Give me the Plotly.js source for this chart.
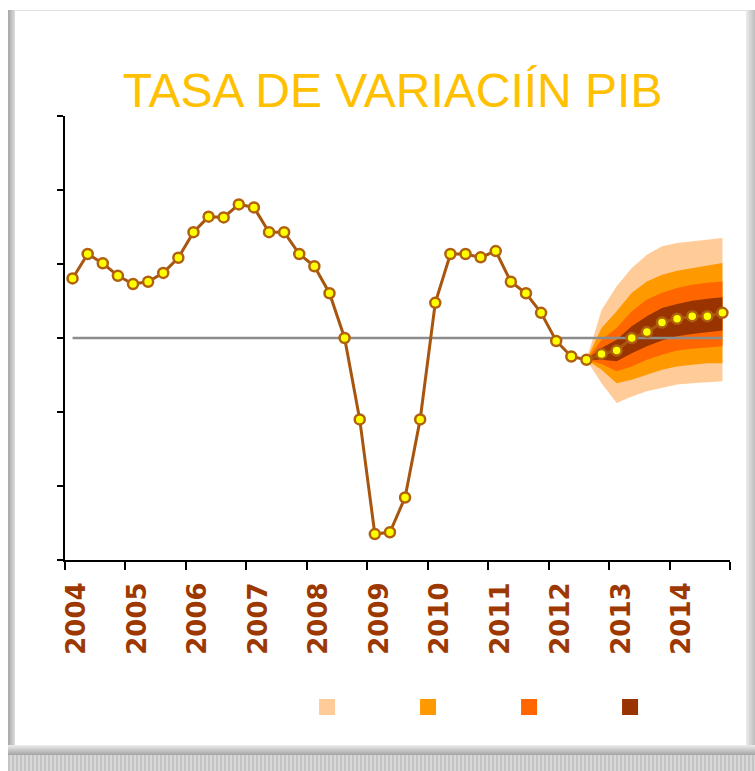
<!DOCTYPE html>
<html>
<head>
<meta charset="utf-8">
<script src="https://cdn.plot.ly/plotly-3.0.1.min.js"></script>
<style>
html, body { margin: 0; padding: 0; background: #ffffff; }
#wrap { position: relative; width: 755px; height: 771px; overflow: hidden; background: #ffffff; }
.fr { position: absolute; }
#chart { position: absolute; left: 0; top: 0; width: 755px; height: 771px; }
</style>
</head>
<body>
<div id="wrap">
  <div class="fr" style="left:8px;top:10px;width:7px;height:738px;background:linear-gradient(to right,#a6a6a6,#dcdcdc);"></div>
  <div class="fr" style="left:15px;top:10px;width:733px;height:1px;background:#e2e2e2;"></div>
  <div class="fr" style="left:746px;top:10px;width:9px;height:738px;background:linear-gradient(to right,#ececec,#bcbcbc);"></div>
  <div class="fr" style="left:8px;top:745px;width:747px;height:10px;background:linear-gradient(to bottom,#ededed,#a4a4a4);"></div>
  <div class="fr" style="left:8px;top:755px;width:747px;height:16px;background:repeating-linear-gradient(to right,#c4c4c4 0px,#c4c4c4 2px,#d8d8d8 2px,#d8d8d8 4px);"></div>
  <div id="chart"></div>
</div>
<script>
// ---- data ----
const titleText = 'TASA DE VARIACIÍN PIB';
const years = ['2004','2005','2006','2007','2008','2009','2010','2011','2012','2013','2014'];
const firstYear = 2004;
const quartersPerYear = 4;

// quarterly GDP growth, 2004Q1 .. 2014Q4 (2012Q4 onwards = forecast)
const gdp = [
  1.61, 2.27, 2.02, 1.68,
  1.46, 1.52, 1.76, 2.17,
  2.86, 3.28, 3.26, 3.61,
  3.53, 2.86, 2.86, 2.27,
  1.94, 1.21, 0.00, -2.20,
  -5.30, -5.25, -4.31, -2.20,
  0.95, 2.27, 2.27, 2.18,
  2.35, 1.52, 1.21, 0.68,
  -0.08, -0.50, -0.59, -0.43,
  -0.34, 0.00, 0.16, 0.42,
  0.52, 0.59, 0.59, 0.68
];
const fanStartIndex = 34; // 2012Q3, last observed quarter

// fan bands (from 2012Q3 to 2014Q4)
const peachUpper  = [-0.59, 0.76, 1.40, 1.89, 2.25, 2.48, 2.57, 2.61, 2.66, 2.70];
const peachLower  = [-0.59, -1.22, -1.76, -1.58, -1.44, -1.35, -1.26, -1.22, -1.19, -1.17];
const orangeUpper = [-0.59, 0.27, 0.72, 1.22, 1.53, 1.71, 1.82, 1.89, 1.98, 2.03];
const orangeLower = [-0.59, -0.86, -1.22, -1.13, -0.99, -0.86, -0.77, -0.72, -0.68, -0.68];
const redUpper    = [-0.59, -0.05, 0.27, 0.72, 1.04, 1.22, 1.35, 1.44, 1.49, 1.53];
const redLower    = [-0.59, -0.70, -0.90, -0.77, -0.59, -0.45, -0.34, -0.29, -0.25, -0.22];
const brownUpper  = [-0.59, -0.27, -0.05, 0.32, 0.59, 0.81, 0.92, 1.01, 1.06, 1.10];
const brownLower  = [-0.59, -0.59, -0.63, -0.41, -0.22, -0.07, 0.05, 0.11, 0.16, 0.20];

const baselineValue = 0;
const yTicks = [-6, -4, -2, 0, 2, 4, 6];

// ---- styles ----
const bandColors = ['#FFCC99', '#FF9900', '#FF6600', '#993300'];
const lineColor = '#a8560f';
const labelColor = '#9c3800';

// ---- build ----
const quarterX = gdp.map((v, i) => firstYear + (i + 0.5) / quartersPerYear);
const fanX = quarterX.slice(fanStartIndex);
const yearTickVals = years.map(y => Number(y)).concat([firstYear + years.length]);
const yearTickText = years.concat(['']);

function band(upper, lower, color) {
  return {
    x: fanX.concat(fanX.slice().reverse()),
    y: upper.concat(lower.slice().reverse()),
    type: 'scatter', mode: 'lines', fill: 'toself',
    fillcolor: color, line: {width: 0, color: color},
    showlegend: false, hoverinfo: 'skip'
  };
}
function legendEntry(color) {
  return {
    x: [null], y: [null], type: 'scatter', mode: 'markers', name: ' ',
    marker: {symbol: 'square', size: 16, color: color, line: {width: 0}},
    showlegend: true, hoverinfo: 'skip'
  };
}

const traces = [
  band(peachUpper, peachLower, bandColors[0]),
  band(orangeUpper, orangeLower, bandColors[1]),
  band(redUpper, redLower, bandColors[2]),
  band(brownUpper, brownLower, bandColors[3]),
  {
    x: [quarterX[0], quarterX[quarterX.length - 1]],
    y: [baselineValue, baselineValue],
    type: 'scatter', mode: 'lines',
    line: {color: '#8c8c8c', width: 2.5},
    showlegend: false, hoverinfo: 'skip'
  },
  {
    x: quarterX, y: gdp, type: 'scatter', mode: 'lines+markers',
    line: {color: lineColor, width: 3},
    marker: {size: 10, color: '#ffff00', line: {color: '#b0600f', width: 2.5}},
    showlegend: false
  },
  legendEntry(bandColors[0]),
  legendEntry(bandColors[1]),
  legendEntry(bandColors[2]),
  legendEntry(bandColors[3])
];

const layout = {
  width: 755, height: 771,
  margin: {l: 65, r: 25, t: 116, b: 211},
  paper_bgcolor: 'rgba(0,0,0,0)',
  plot_bgcolor: 'rgba(0,0,0,0)',
  title: {
    text: titleText,
    font: {family: 'Liberation Sans, Arial, sans-serif', size: 48, color: '#FFC000'},
    x: 0.52, xanchor: 'center', xref: 'container',
    y: 0.8833, yanchor: 'middle', yref: 'container'
  },
  xaxis: {
    range: [firstYear, firstYear + years.length],
    tickmode: 'array', tickvals: yearTickVals, ticktext: yearTickText,
    ticks: 'outside', ticklen: 8, tickwidth: 2, tickcolor: '#000000',
    showline: true, linecolor: '#000000', linewidth: 2,
    showgrid: false, zeroline: false,
    tickangle: -90,
    ticklabelshift: 12, ticklabelstandoff: 2,
    tickfont: {family: 'DejaVu Sans, Verdana, sans-serif', size: 26, color: labelColor, weight: 'bold'},
    fixedrange: true
  },
  yaxis: {
    range: [-6, 6],
    tickmode: 'array', tickvals: yTicks, showticklabels: false,
    ticks: 'outside', ticklen: 6, tickwidth: 2, tickcolor: '#000000',
    showline: true, linecolor: '#000000', linewidth: 2,
    showgrid: false, zeroline: false,
    fixedrange: true
  },
  showlegend: true,
  legend: {
    orientation: 'h', x: 0.364, xanchor: 'left', y: -0.331, yanchor: 'middle',
    entrywidth: 56, entrywidthmode: 'pixels',
    font: {size: 12}, bgcolor: 'rgba(0,0,0,0)', traceorder: 'normal'
  }
};

Plotly.newPlot('chart', traces, layout, {displayModeBar: false, staticPlot: true});
</script>
</body>
</html>
